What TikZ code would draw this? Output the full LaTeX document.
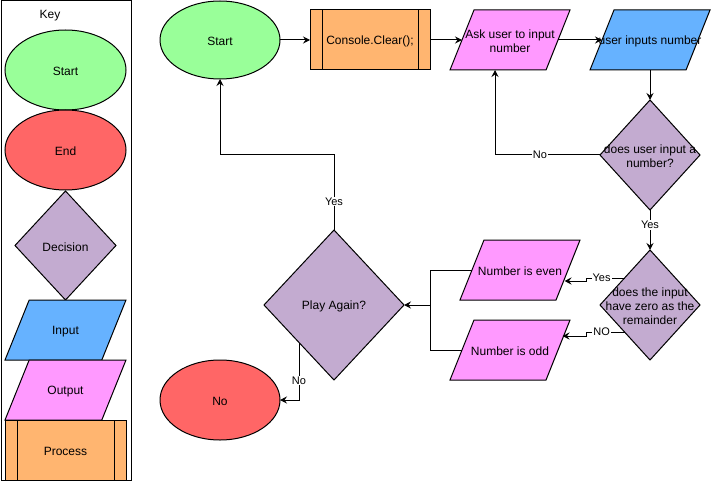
\documentclass[tikz,border=0pt]{standalone}
\usepackage{fontspec}
\setmainfont{Liberation Sans}
\usetikzlibrary{shapes.geometric,arrows.meta,calc}
\definecolor{cgreen}{HTML}{99FF99}
\definecolor{cred}{HTML}{FF6666}
\definecolor{cpurple}{HTML}{C3ABD0}
\definecolor{cblue}{HTML}{66B2FF}
\definecolor{cpink}{HTML}{FF99FF}
\definecolor{corange}{HTML}{FFB570}
\begin{document}
\begin{tikzpicture}[x=1pt,y=-1pt,line width=1pt,
  every node/.style={font=\fontsize{12}{14}\selectfont},
  every label/.style={yshift=-1.5pt},
  base/.style={draw=black,line width=1pt,inner sep=0pt,outer sep=0pt},
  term/.style={base,ellipse,minimum width=120,minimum height=78},
  dia/.style={base,diamond,fill=cpurple},
  para/.style={base,inner sep=2pt,trapezium,trapezium left angle=71.57,trapezium right angle=108.43,
    trapezium stretches=true,minimum width=120,minimum height=60},
  proc/.style={base,rectangle,fill=corange,minimum width=120,minimum height=60,
    path picture={
      \draw[line width=1pt] ([xshift=12pt]path picture bounding box.north west) -- ([xshift=12pt]path picture bounding box.south west);
      \draw[line width=1pt] ([xshift=-12pt]path picture bounding box.north east) -- ([xshift=-12pt]path picture bounding box.south east);}},
  arr/.style={-{Stealth[length=7pt,width=7pt,inset=2.5pt]},line width=1pt},
  lbl/.style={fill=white,inner sep=1pt,font=\fontsize{11}{13}\selectfont}
]
\useasboundingbox (0,0) rectangle (711,481);
% key
\draw[line width=1pt] (1,1) rectangle (131,480);
\node (keyt) at (50,16) {Key};
\node[term,fill=cgreen,minimum width=121,minimum height=80,label=center:Start] (kstart) at (65.5,70) {};
\node[term,fill=cred,minimum width=121,minimum height=80,label=center:End] (kend) at (65.5,150) {};
\node[dia,minimum width=101,minimum height=109,label=center:Decision] (kdec) at (65.5,245.5) {};
\node[para,fill=cblue,minimum width=121,label=center:Input] (kin) at (65.5,330) {};
\node[para,fill=cpink,minimum width=121,label=center:Output] (kout) at (65.5,390) {};
\node[proc,minimum width=121,label=center:Process] (kproc) at (65.5,450) {};
% main
\node[term,fill=cgreen,label=center:Start] (start) at (220,40) {};
\node[proc,label={center:Console.Clear();}] (clear) at (370,40) {};
\node[para,fill=cpink,label={[align=center]center:Ask user to input\\number}] (ask) at (510,40) {};
\node[para,fill=cblue,label={center:user inputs number}] (inp) at (650,40) {};
\node[dia,minimum width=100,minimum height=110,label={[align=center]center:does user input a\\number?}] (d1) at (650,155) {};
\node[dia,minimum width=100,minimum height=110,label={[align=center]center:does the input\\have zero as the\\remainder}] (d2) at (650,305) {};
\node[para,fill=cpink,label={center:Number is even}] (even) at (520,270) {};
\node[para,fill=cpink,label={center:Number is odd}] (odd) at (510,350) {};
\node[dia,minimum width=140,minimum height=150,label={center:Play Again?}] (play) at (334,305) {};
\node[term,fill=cred,minimum height=80,label=center:No] (noend) at (220,400) {};
\coordinate (jn) at (430,305);
\coordinate (ys) at (220,155);
% edges
\draw[arr] (start) -- (clear);
\draw[arr] (clear) -- (ask);
\draw[arr] (ask) -- (inp);
\draw[arr] (inp) -- (d1);
\draw[arr] (d1.west) -| node[lbl,pos=0.286]{No} ([xshift=-15pt]ask.south);
\draw[arr] (d1) -- node[lbl,pos=0.375]{Yes} (d2);
\draw[arr] ([shift={(-25,-27)}]d2.center) -- node[lbl,pos=0.6]{Yes} ++(-39,0) -- ++(0,3) -- ([shift={(-3.5,11)}]even.east);
\draw[arr] ([shift={(-25,27)}]d2.center) -- node[lbl,pos=0.6]{NO} ++(-39,0) -- ++(0,4) -- ([shift={(4.5,-14)}]odd.east);
\draw (even.west) -| (jn);
\draw[arr] (odd.west) -| (jn) -- (play.east);
\draw[arr] (play.north) -- node[lbl,pos=0.38]{Yes} (play.north |- ys) -| (start.south);
\draw[arr] ([shift={(-35,37.5)}]play.center) |- node[lbl,pos=0.33]{No} (noend.east);
\end{tikzpicture}
\end{document}
